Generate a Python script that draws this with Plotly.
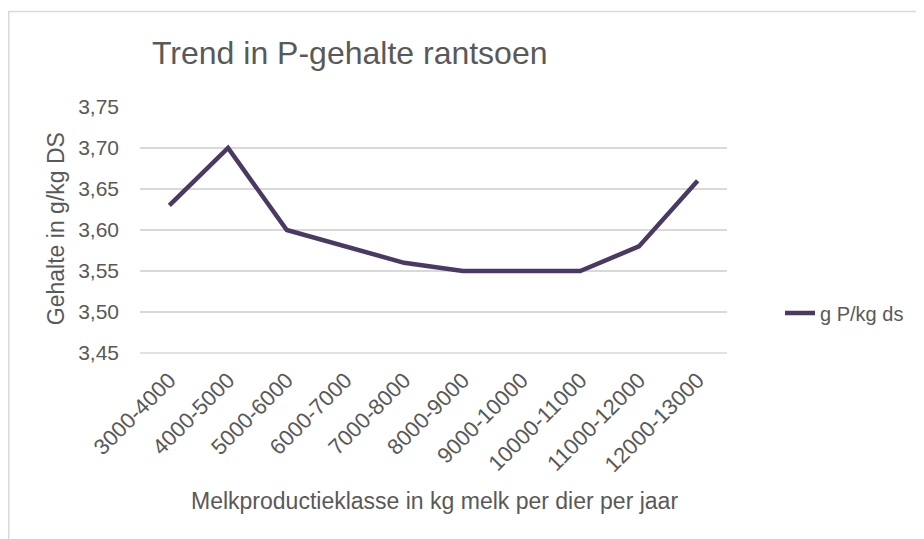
import plotly.graph_objects as go

categories = ["3000-4000", "4000-5000", "5000-6000", "6000-7000", "7000-8000",
              "8000-9000", "9000-10000", "10000-11000", "11000-12000", "12000-13000"]
values = [3.63, 3.70, 3.60, 3.58, 3.56, 3.55, 3.55, 3.55, 3.58, 3.66]
series_name = "g P/kg ds"
y_ticks = [3.45, 3.50, 3.55, 3.60, 3.65, 3.70, 3.75]

# page body has an 8px margin; work in screen coords and shift
OFF = 8
W, H = 924 - OFF, 539 - OFF
PL, PR, PT, PB = 140, 727, 106.7, 353  # plot area in screen coords
L, R, T, B = PL - OFF, W - (PR - OFF), PT - OFF, H - (PB - OFF)
pw, ph = W - L - R, H - T - B

def px(x):
    return (x - OFF - L) / pw

def py(y):
    return (H - B - (y - OFF)) / ph

FONT = "Liberation Sans"
GREY = "#595959"
LINE = "#4a3a63"

fig = go.Figure()
fig.add_trace(go.Scatter(
    x=categories, y=values, mode="lines", name=series_name,
    line=dict(color=LINE, width=4.5, shape="linear"),
))

fig.update_layout(
    width=W, height=H,
    margin=dict(l=L, r=R, t=T, b=B, pad=0),
    paper_bgcolor="white", plot_bgcolor="white",
    separators=",.",
    font=dict(family=FONT, color=GREY, size=20),
    showlegend=True,
    legend=dict(x=px(780), y=py(313), xanchor="left", yanchor="middle",
                font=dict(size=20, color=GREY),
                bgcolor="rgba(0,0,0,0)"),
    xaxis=dict(
        type="category", range=[-0.5, len(categories) - 0.5],
        tickangle=-45, showgrid=False, showline=False, automargin=False,
        ticks="", tickfont=dict(size=22, color=GREY), zeroline=False,
        ticklabelstandoff=9,
    ),
    yaxis=dict(
        range=[3.45, 3.75], tickvals=y_ticks, tickformat=".2f", automargin=False,
        showgrid=True, gridcolor="#d9d9d9", gridwidth=1.5, zeroline=False,
        showline=False, ticks="", tickfont=dict(size=21, color=GREY),
        ticklabelstandoff=20,
    ),
    shapes=[dict(type="rect", xref="paper", yref="paper",
                 x0=px(OFF + 0.75), x1=px(960), y0=py(600), y1=py(11),
                 line=dict(color="#d9d9d9", width=1.5), layer="below"),
            dict(type="line", xref="paper", yref="paper",
                 x0=0, x1=1, y0=0, y1=0,
                 line=dict(color="#d9d9d9", width=1.5), layer="below")],
    annotations=[
        dict(text="Trend in P-gehalte rantsoen", xref="paper", yref="paper",
             x=px(150), y=py(53), xanchor="left", yanchor="middle",
             showarrow=False, font=dict(size=32, color=GREY, family=FONT)),
        dict(text="Gehalte in g/kg DS", xref="paper", yref="paper",
             x=px(56), y=py(229), xanchor="center", yanchor="middle", textangle=-90,
             showarrow=False, font=dict(size=23, color=GREY, family=FONT)),
        dict(text="Melkproductieklasse in kg melk per dier per jaar", xref="paper", yref="paper",
             x=px(435), y=py(501), xanchor="center", yanchor="middle",
             showarrow=False, font=dict(size=23, color=GREY, family=FONT)),
    ],
)

fig.write_html("out.html")
